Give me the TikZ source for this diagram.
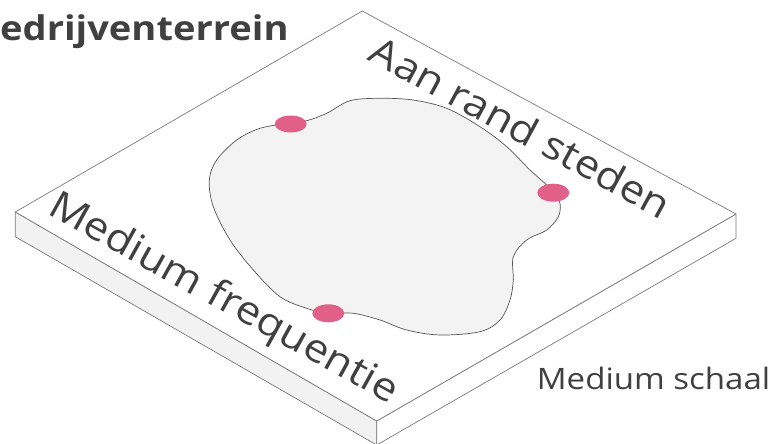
\documentclass[tikz,border=0pt]{standalone}
\usepackage{fontspec}
\newfontfamily\hand[FakeStretch=1.12]{Open Sans}
\definecolor{inkc}{HTML}{404040}
\definecolor{edgec}{HTML}{7A7A7A}
\definecolor{sidec}{HTML}{F2F2F2}
\definecolor{blobfill}{HTML}{F3F3F3}
\definecolor{blobline}{HTML}{555555}
\definecolor{pinkc}{HTML}{E0608A}
\begin{document}
\begin{tikzpicture}[x=1pt,y=-1pt,
  slab/.style={draw=edgec,line width=0.7pt,line join=round},
  blob/.style={draw=blobline,fill=blobfill,line width=0.7pt},
  dotc/.style={fill=pinkc},
  label/.style={text=inkc,inner sep=0pt}]
\useasboundingbox (0,0) rectangle (774,444);
\coordinate (T) at (362.3,11);
\coordinate (R) at (736,214);
\coordinate (F) at (376.7,421);
\coordinate (L) at (15.3,212);
\coordinate (Rb) at (736,238.3);
\coordinate (Fb) at (376.7,445);
\coordinate (Lb) at (15.3,236.7);
\draw[slab,fill=sidec] (L) -- (F) -- (Fb) -- (Lb) -- cycle;
\draw[slab,fill=white] (F) -- (R) -- (Rb) -- (Fb) -- cycle;
\draw[slab,fill=white] (T) -- (R) -- (F) -- (L) -- cycle;
\draw[blob] plot[smooth cycle,tension=0.55] coordinates {
 (290,123) (306.7,120.7) (326.7,113.3) (350,100.7) (380,98.3) (413,100)
 (446.7,108.3) (480,126.7) (506.7,146.7) (530,170) (546.7,185) (553,193)
 (560,203.3) (558.3,216.7) (546.7,230) (526.7,240) (513.3,256.7) (513.3,280)
 (510,300) (500,320) (480,331.7) (440,335) (406.7,330) (380,320) (353.3,313.3)
 (328.3,313.3) (306.7,308.3) (280,296.7) (253.3,270) (230,240) (213.3,206.7)
 (209.3,180) (216.7,160) (236.7,140) (260,128.3)};
\fill[dotc] (290.7,124) ellipse [x radius=16,y radius=8.5];
\fill[dotc] (553.3,192.7) ellipse [x radius=16,y radius=9];
\fill[dotc] (328.3,313.3) ellipse [x radius=16,y radius=9];
\node[label,anchor=base west,font=\hand\bfseries\fontsize{34}{38}\selectfont] (title) at (0,41) {edrijventerrein};
\node[label,rotate=-28.5,font=\hand\fontsize{39}{43}\selectfont] (aan) at (521,127) {Aan rand steden};
\node[label,rotate=-29,font=\hand\fontsize{39}{43}\selectfont] (freq) at (223,300) {Medium frequentie};
\node[label,anchor=base west,font=\hand\fontsize{29.5}{33}\selectfont] (schaal) at (536.7,389.3) {Medium schaal};
\end{tikzpicture}
\end{document}
